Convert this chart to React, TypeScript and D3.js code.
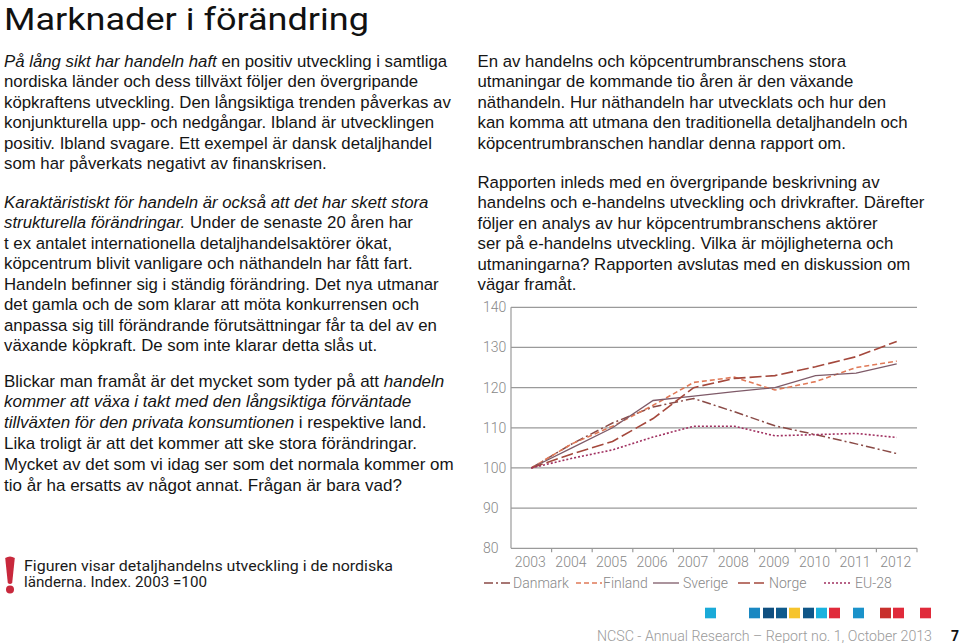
import React from 'react';
import * as d3 from 'd3';

const years = ['2003', '2004', '2005', '2006', '2007', '2008', '2009', '2010', '2011', '2012'];
const yTicks = [80, 90, 100, 110, 120, 130, 140];
const danmark = [100, 106, 111.2, 115.2, 117.3, 114, 110.5, 108.3, 106, 103.6];
const finland = [100, 106, 110.4, 115.6, 121.3, 122.6, 119.4, 121.5, 125, 126.6];
const sverige = [100, 105, 110, 116.8, 117.9, 119, 120, 123, 123.6, 125.9];
const norge = [100, 103.5, 106.6, 112.3, 120, 122.3, 123, 125.2, 127.7, 131.5];
const eu28 = [100, 102.4, 104.5, 107.7, 110.4, 110.4, 108, 108.3, 108.6, 107.6];
const seriesNames = ['Danmark', 'Finland', 'Sverige', 'Norge', 'EU-28'];
const seriesValues = [danmark, finland, sverige, norge, eu28];

const seriesStyle = [
  { color: '#8a4a46', dash: '9,3,2,3', width: 1.5 },
  { color: '#e07a58', dash: '5,3', width: 1.6 },
  { color: '#7e5a68', dash: '', width: 1.3 },
  { color: '#a4483c', dash: '12,4', width: 1.6 },
  { color: '#a03060', dash: '2,2', width: 1.6 },
];
const legendPos = [
  { sx: 484, tx: 513 },
  { sx: 576, tx: 603 },
  { sx: 653, tx: 683 },
  { sx: 738, tx: 769 },
  { sx: 824, tx: 855 },
];

type Seg = [string, boolean];
const para1: Seg[][] = [
  [['På lång sikt har handeln haft', true], [' en positiv utveckling i samtliga', false]],
  [['nordiska länder och dess tillväxt följer den övergripande', false]],
  [['köpkraftens utveckling. Den långsiktiga trenden påverkas av', false]],
  [['konjunkturella upp- och nedgångar. Ibland är utvecklingen', false]],
  [['positiv. Ibland svagare. Ett exempel är dansk detaljhandel', false]],
  [['som har påverkats negativt av finanskrisen.', false]],
];
const para2: Seg[][] = [
  [['Karaktäristiskt för handeln är också att det har skett stora', true]],
  [['strukturella förändringar.', true], [' Under de senaste 20 åren har', false]],
  [['t ex antalet internationella detaljhandelsaktörer ökat,', false]],
  [['köpcentrum blivit vanligare och näthandeln har fått fart.', false]],
  [['Handeln befinner sig i ständig förändring. Det nya utmanar', false]],
  [['det gamla och de som klarar att möta konkurrensen och', false]],
  [['anpassa sig till förändrande förutsättningar får ta del av en', false]],
  [['växande köpkraft. De som inte klarar detta slås ut.', false]],
];
const para3: Seg[][] = [
  [['Blickar man framåt är det mycket som tyder på att ', false], ['handeln', true]],
  [['kommer att växa i takt med den långsiktiga förväntade', true]],
  [['tillväxten för den privata konsumtionen', true], [' i respektive land.', false]],
  [['Lika troligt är att det kommer att ske stora förändringar.', false]],
  [['Mycket av det som vi idag ser som det normala kommer om', false]],
  [['tio år ha ersatts av något annat. Frågan är bara vad?', false]],
];
const para4: Seg[][] = [
  [['En av handelns och köpcentrumbranschens stora', false]],
  [['utmaningar de kommande tio åren är den växande', false]],
  [['näthandeln. Hur näthandeln har utvecklats och hur den', false]],
  [['kan komma att utmana den traditionella detaljhandeln och', false]],
  [['köpcentrumbranschen handlar denna rapport om.', false]],
];
const para5: Seg[][] = [
  [['Rapporten inleds med en övergripande beskrivning av', false]],
  [['handelns och e-handelns utveckling och drivkrafter. Därefter', false]],
  [['följer en analys av hur köpcentrumbranschens aktörer', false]],
  [['ser på e-handelns utveckling. Vilka är möjligheterna och', false]],
  [['utmaningarna? Rapporten avslutas med en diskussion om', false]],
  [['vägar framåt.', false]],
];

const squareColors = ['#1aaad8', '#1a88c2', '#0f4f80', '#0f5a8c', '#f6c42c', '#0f5688', '#1ab2de', '#e02a3a', '#1a92ca', '#c8302c', '#e02a3a', '#e02a3a'];
const squareX = [705, 749, 763, 776, 789, 803, 816, 829, 853, 880, 893, 920];

const bodyFont = '"Liberation Sans", Arial, Helvetica, sans-serif';
const techFont = 'Roboto, "Noto Sans", sans-serif';

function Para({ lines, x, y0, dy, size }: { lines: Seg[][]; x: number; y0: number; dy: number; size: number }) {
  return (
    <g fontFamily={bodyFont} fontSize={size} fill="#151515">
      {lines.map((segs, i) => (
        <text key={i} x={x} y={y0 + i * dy}>
          {segs.map(([t, it], j) => (
            <tspan key={j} fontStyle={it ? 'italic' : 'normal'}>{t}</tspan>
          ))}
        </text>
      ))}
    </g>
  );
}

export default function App() {
  const x = d3.scaleBand<string>().domain(years).range([511, 917]).paddingInner(0).paddingOuter(0);
  const y = d3.scaleLinear().domain([80, 140]).range([548.3, 307.3]);
  const cx = (yr: string) => (x(yr) as number) + x.bandwidth() / 2;
  const line = d3
    .line<number>()
    .x((_, i) => cx(years[i]))
    .y((d) => y(d));

  return (
    <svg width={960} height={643} style={{ position: 'absolute', left: 0, top: 0, background: '#fff' }}>
      <text x={4} y={29.5} fontFamily={techFont} fontSize={31} fontWeight={400} fill="#111" textLength={365} lengthAdjust="spacingAndGlyphs">
        Marknader i förändring
      </text>

      <Para lines={para1} x={4} y0={66.7} dy={20.45} size={16.8} />
      <Para lines={para2} x={4} y0={207.8} dy={20.45} size={16.8} />
      <Para lines={para3} x={4} y0={386.5} dy={20.8} size={17} />
      <Para lines={para4} x={477.5} y0={66.7} dy={20.45} size={16.8} />
      <Para lines={para5} x={477.5} y0={188} dy={20.45} size={16.8} />

      {/* grid */}
      {yTicks.map((t) => (
        <g key={t}>
          {t > 80 && <line x1={511} x2={917} y1={y(t)} y2={y(t)} stroke="#9a9a9a" strokeWidth={1.2} />}
          <text x={483} y={y(t) + 5} fontFamily={techFont} fontWeight={300} fontSize={14} fill="#888">
            {t}
          </text>
        </g>
      ))}
      <line x1={511} x2={511} y1={y(140)} y2={y(80)} stroke="#9a9a9a" strokeWidth={1.2} />
      <line x1={511} x2={917} y1={y(80)} y2={y(80)} stroke="#9a9a9a" strokeWidth={1.2} />
      {years.map((yr) => (
        <g key={yr}>
          <line x1={(x(yr) as number) + x.bandwidth()} x2={(x(yr) as number) + x.bandwidth()} y1={y(80)} y2={y(80) + 4} stroke="#9a9a9a" strokeWidth={1.2} />
          <text x={cx(yr) - 1} y={567} textAnchor="middle" fontFamily={techFont} fontWeight={300} fontSize={14} fill="#888">
            {yr}
          </text>
        </g>
      ))}

      {seriesValues.map((vals, i) => (
        <path
          key={seriesNames[i]}
          d={line(vals) || ''}
          fill="none"
          stroke={seriesStyle[i].color}
          strokeWidth={seriesStyle[i].width}
          strokeDasharray={seriesStyle[i].dash || undefined}
        />
      ))}

      {seriesNames.map((n, i) => (
        <g key={n}>
          <line
            x1={legendPos[i].sx}
            x2={legendPos[i].sx + 26}
            y1={583}
            y2={583}
            stroke={seriesStyle[i].color}
            strokeWidth={seriesStyle[i].width}
            strokeDasharray={seriesStyle[i].dash || undefined}
          />
          <text x={legendPos[i].tx} y={588} fontFamily={techFont} fontWeight={300} fontSize={14} fill="#888">
            {n}
          </text>
        </g>
      ))}

      {/* caption */}
      <path d="M5.2,558 Q10,555 14.8,558 L12.2,583 Q10,585 7.8,583 Z" fill="#c8283c" />
      <circle cx={10} cy={589.5} r={4} fill="#c8283c" />
      <text x={24} y={570.5} fontFamily={techFont} fontSize={14} fill="#1a1a1a" textLength={369} lengthAdjust="spacingAndGlyphs">
        Figuren visar detaljhandelns utveckling i de nordiska
      </text>
      <text x={24} y={587.3} fontFamily={techFont} fontSize={14} fill="#1a1a1a" textLength={183} lengthAdjust="spacingAndGlyphs">
        länderna. Index. 2003 =100
      </text>

      {/* footer */}
      {squareX.map((sx, i) => (
        <rect key={i} x={sx} y={607.7} width={11} height={10.6} fill={squareColors[i]} />
      ))}
      <text x={597} y={641} fontFamily={techFont} fontWeight={300} fontSize={14} fill="#9a9a9a" textLength={335} lengthAdjust="spacingAndGlyphs">
        NCSC - Annual Research – Report no. 1, October 2013
      </text>
      <text x={951} y={641} fontFamily={techFont} fontWeight={700} fontSize={14} fill="#111">
        7
      </text>
    </svg>
  );
}
